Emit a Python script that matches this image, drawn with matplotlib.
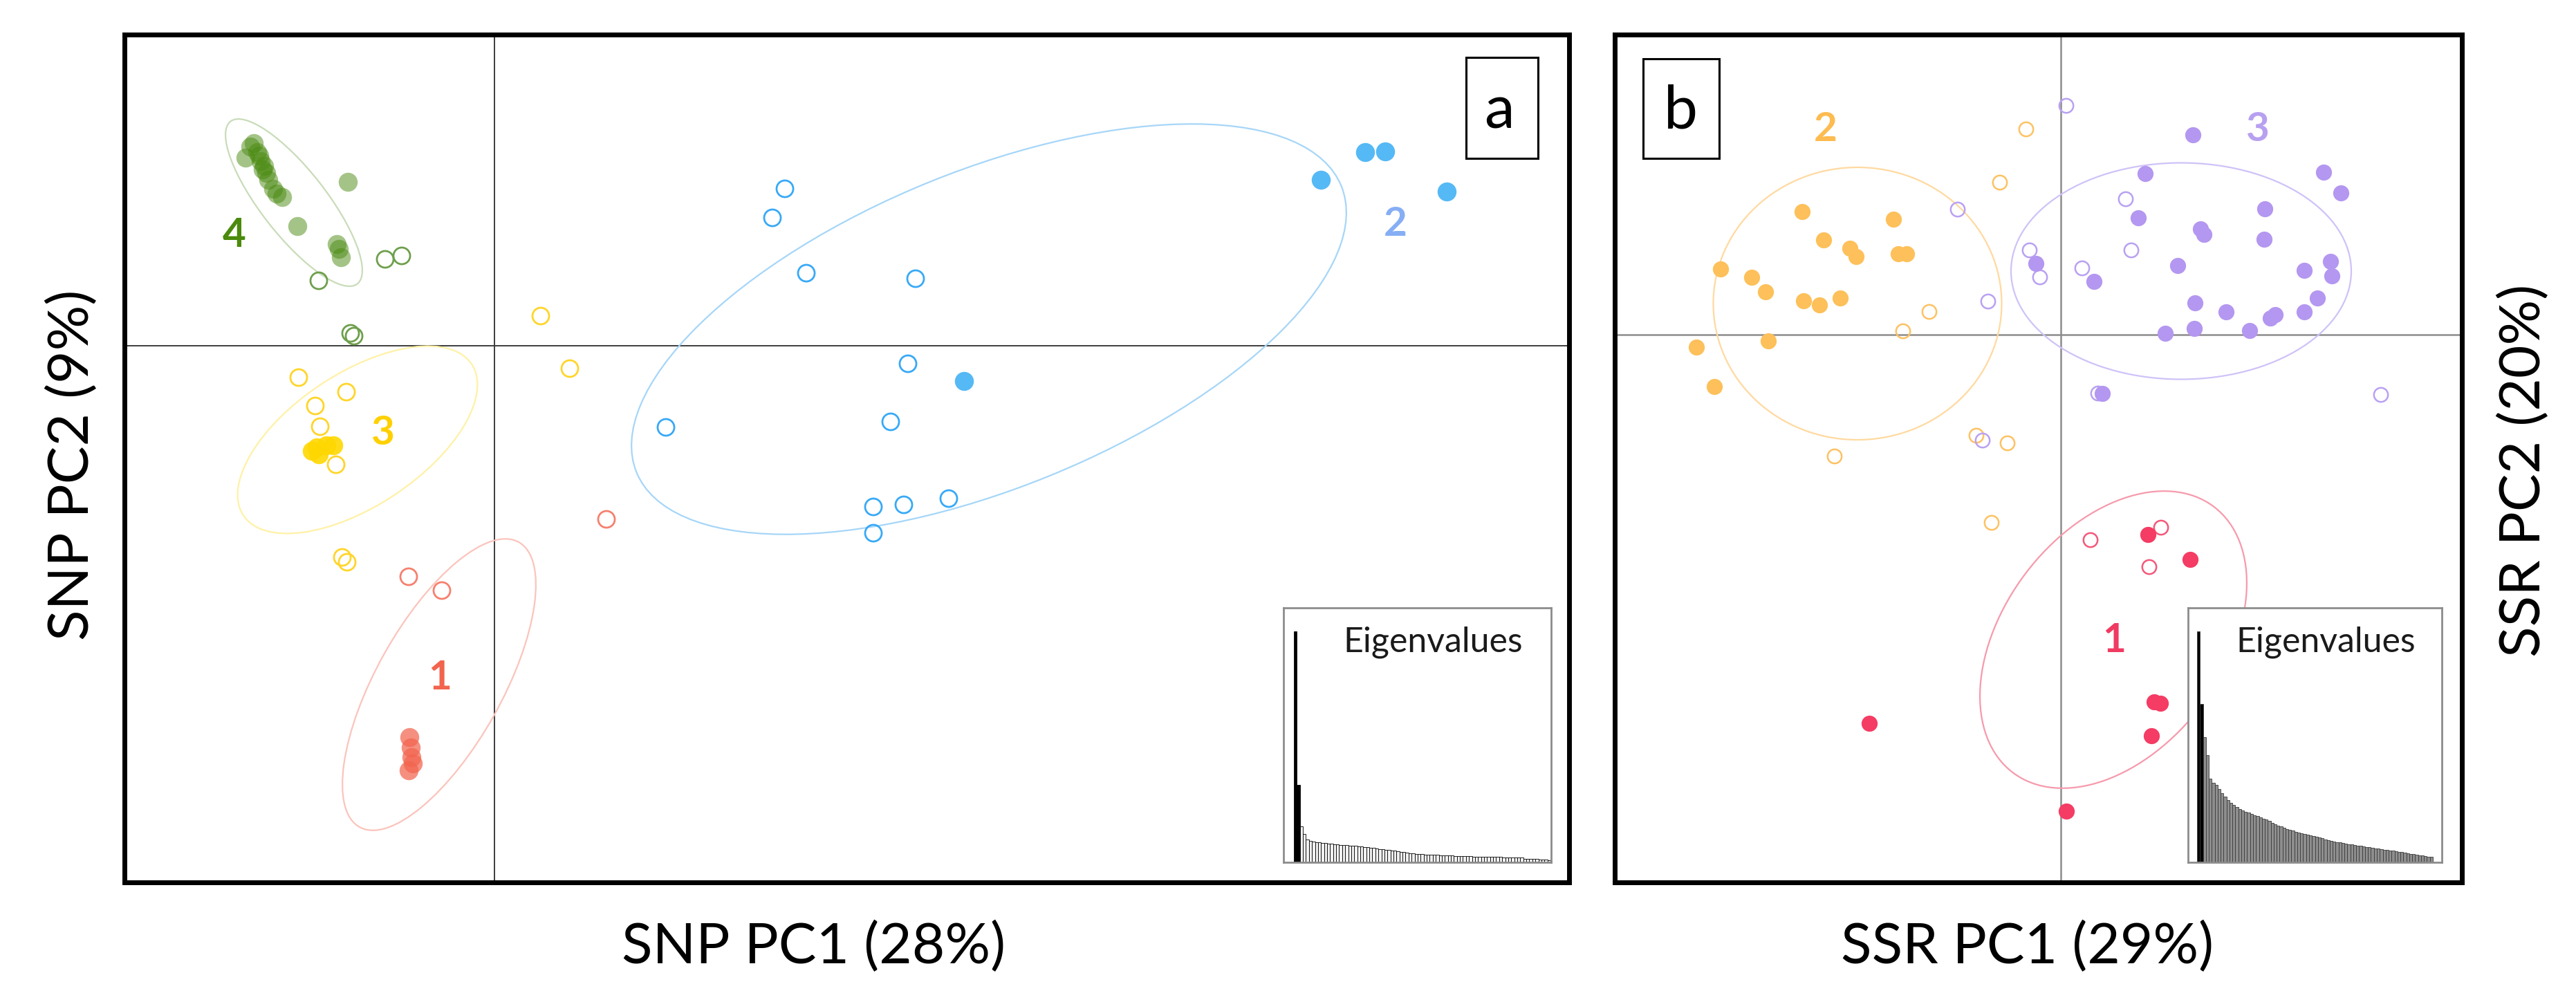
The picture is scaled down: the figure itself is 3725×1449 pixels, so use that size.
import matplotlib
matplotlib.use("Agg")
import matplotlib.pyplot as plt
from matplotlib.patches import Ellipse, Rectangle

plt.rcParams['font.family'] = ['Lato', 'DejaVu Sans']

# ---------------- DATA: panel a (SNP PCA) ----------------
snp_g4_fill_x = [-3.48, -3.60, -3.43, -3.38, -3.33, -3.30, -3.27, -3.20, -3.15, -3.07, -3.53, -3.40, -3.35, -2.12, -2.85, -2.28, -2.25, -2.22]
snp_g4_fill_y = [2.93, 2.72, 2.80, 2.67, 2.60, 2.50, 2.40, 2.27, 2.20, 2.15, 2.88, 2.75, 2.55, 2.37, 1.73, 1.47, 1.40, 1.28]
snp_g4_open_x = [-2.54, -1.58, -1.34, -2.08, -2.03]
snp_g4_open_y = [0.94, 1.25, 1.30, 0.18, 0.14]

snp_g3_fill_x = [-2.64, -2.54, -2.43, -2.33, -2.57]
snp_g3_fill_y = [-1.52, -1.57, -1.44, -1.44, -1.47]
snp_g3_open_x = [-2.83, -2.14, -2.59, -2.52, -2.29, -2.20, -2.13, 0.67, 1.09]
snp_g3_open_y = [-0.46, -0.67, -0.87, -1.17, -1.72, -3.06, -3.13, 0.43, -0.33]

snp_g1_fill_x = [-1.23, -1.21, -1.20, -1.18, -1.24]
snp_g1_fill_y = [-5.66, -5.81, -5.95, -6.04, -6.14]
snp_g1_open_x = [-1.24, -0.76, 1.62]
snp_g1_open_y = [-3.34, -3.54, -2.51]

snp_g2_fill_x = [11.95, 12.59, 12.88, 13.77, 6.79]
snp_g2_fill_y = [2.40, 2.80, 2.81, 2.23, -0.51]
snp_g2_open_x = [4.20, 4.02, 4.51, 6.09, 5.98, 5.73, 2.48, 5.48, 5.92, 6.57, 5.48]
snp_g2_open_y = [2.27, 1.85, 1.05, 0.97, -0.26, -1.10, -1.18, -2.33, -2.30, -2.21, -2.71]

# ellipses: centre x, centre y, width, height, angle (deg)
snp_ell_g4 = [-2.90, 2.07, 2.98, 0.94, -52]
snp_ell_g3 = [-1.98, -1.36, 3.96, 1.92, 33.5]
snp_ell_g1 = [-0.80, -4.90, 4.72, 1.82, 60.8]
snp_ell_g2 = [7.15, 0.24, 11.0, 4.59, 22.1]

snp_eig = [1.000, 0.335, 0.156, 0.122, 0.100, 0.094, 0.090, 0.088, 0.086, 0.085,
           0.084, 0.082, 0.080, 0.079, 0.077, 0.076, 0.075, 0.074, 0.073, 0.072,
           0.071, 0.070, 0.069, 0.067, 0.066, 0.064, 0.062, 0.060, 0.058, 0.056,
           0.054, 0.053, 0.052, 0.050, 0.048, 0.046, 0.044, 0.042, 0.040, 0.038,
           0.037, 0.036, 0.035, 0.034, 0.033, 0.033, 0.032, 0.032, 0.031, 0.031,
           0.030, 0.029, 0.029, 0.028, 0.028, 0.027, 0.027, 0.026, 0.026, 0.025,
           0.025, 0.025, 0.024, 0.024, 0.024, 0.024, 0.023, 0.023, 0.023, 0.022,
           0.022, 0.022, 0.021, 0.021, 0.020, 0.020, 0.016, 0.015, 0.015, 0.014,
           0.014, 0.013, 0.013, 0.012, 0.010]

# ---------------- DATA: panel b (SSR PCA) ----------------
ssr_g2_fill_x = [-3.74, -2.42, -3.43, -3.05, -2.96, -2.35, -2.23, -4.92, -4.47, -4.27, -3.72, -3.49, -3.19, -4.23, -5.27, -5.01]
ssr_g2_fill_y = [1.78, 1.67, 1.37, 1.25, 1.13, 1.17, 1.17, 0.95, 0.83, 0.62, 0.49, 0.43, 0.53, -0.09, -0.18, -0.75]
ssr_g2_open_x = [-0.50, -0.88, -1.90, -2.28, -1.22, -0.77, -3.27, -1.00]
ssr_g2_open_y = [2.97, 2.20, 0.33, 0.05, -1.46, -1.57, -1.76, -2.72]

ssr_g3_fill_x = [1.91, 1.22, 3.80, 4.05, 1.12, 2.95, 2.02, 2.07, 2.94, 1.69, -0.36, 0.48, 3.52,
                 3.90, 3.92, 3.71, 3.52, 1.94, 2.39, 3.10, 3.03, 2.73, 1.93, 1.51, 0.60]
ssr_g3_fill_y = [2.89, 2.33, 2.35, 2.05, 1.69, 1.82, 1.53, 1.45, 1.38, 1.00, 1.03, 0.77, 0.93,
                 1.06, 0.85, 0.53, 0.33, 0.46, 0.33, 0.29, 0.24, 0.06, 0.09, 0.02, -0.85]
ssr_g3_open_x = [0.08, -1.49, 0.94, -0.45, -0.30, 0.31, 1.02, -1.05, 0.54, -1.13, 4.63]
ssr_g3_open_y = [3.31, 1.81, 1.96, 1.22, 0.83, 0.96, 1.22, 0.48, -0.85, -1.53, -0.87]

ssr_g1_fill_x = [1.26, 1.87, 1.35, 1.44, 1.31, -2.77, 0.08]
ssr_g1_fill_y = [-2.89, -3.25, -5.31, -5.33, -5.80, -5.62, -6.89]
ssr_g1_open_x = [1.45, 0.43, 1.28]
ssr_g1_open_y = [-2.79, -2.97, -3.36]

ssr_ell_g2 = [-2.94, 0.45, 4.17, 3.94, 0]
ssr_ell_g3 = [1.74, 0.92, 4.92, 3.13, 0]
ssr_ell_g1 = [0.76, -4.41, 4.82, 3.18, 52.9]

ssr_eig = [1.000, 0.687, 0.542, 0.463, 0.363, 0.345, 0.335, 0.318, 0.300, 0.285,
           0.270, 0.258, 0.250, 0.240, 0.232, 0.225, 0.220, 0.215, 0.210, 0.205,
           0.200, 0.195, 0.190, 0.185, 0.180, 0.172, 0.165, 0.160, 0.155, 0.150,
           0.145, 0.140, 0.137, 0.133, 0.130, 0.126, 0.122, 0.120, 0.116, 0.113,
           0.110, 0.107, 0.104, 0.100, 0.097, 0.094, 0.090, 0.088, 0.086, 0.084,
           0.081, 0.079, 0.077, 0.075, 0.073, 0.071, 0.069, 0.067, 0.065, 0.063,
           0.061, 0.059, 0.057, 0.055, 0.053, 0.051, 0.050, 0.048, 0.046, 0.044,
           0.042, 0.040, 0.037, 0.035, 0.033, 0.031, 0.029, 0.027, 0.025, 0.023]

# ---------------- FIGURE ----------------
W, H = 3725, 1449
fig = plt.figure(figsize=(W / 100, H / 100), dpi=100)


def fx(px):
    return px / W


def fy(py):
    return 1 - py / H


def add_box_axes(l, r, t, b):
    return fig.add_axes([fx(l), fy(b), fx(r) - fx(l), fy(t) - fy(b)])


def setup_main(ax, xlim, ylim, cross_col, cross_lw):
    ax.set_xlim(*xlim)
    ax.set_ylim(*ylim)
    ax.set_xticks([])
    ax.set_yticks([])
    for s in ax.spines.values():
        s.set_linewidth(5)
        s.set_color('black')
    ax.axhline(0, color=cross_col, lw=cross_lw, zorder=1)
    ax.axvline(0, color=cross_col, lw=cross_lw, zorder=1)


def draw_ellipse(ax, p, col):
    ax.add_patch(Ellipse((p[0], p[1]), p[2], p[3], angle=p[4], fill=False,
                         ec=col, lw=1.6, zorder=2))


def draw_group(ax, fx_, fy_, ox, oy, fcol, falpha, ocol, s_fill, s_open, lw_open):
    ax.scatter(ox, oy, s=s_open, facecolors='none', edgecolors=ocol,
               linewidths=lw_open, zorder=3)
    ax.scatter(fx_, fy_, s=s_fill, color=fcol, alpha=falpha, linewidths=0, zorder=4)


# ---- panel a ----
axA = add_box_axes(180, 2269, 50, 1276)
setup_main(axA, ((180 - 715) / 100, (2269 - 715) / 100), ((500 - 1276) / 100, (500 - 50) / 100),
           '#3c3c3c', 1.4)

draw_ellipse(axA, snp_ell_g4, '#c9dcb9')
draw_ellipse(axA, snp_ell_g3, '#fff1a6')
draw_ellipse(axA, snp_ell_g1, '#fbc4bc')
draw_ellipse(axA, snp_ell_g2, '#a6d6f8')

sA_f, sA_o, lwA = 390, 300, 2.0
draw_group(axA, snp_g4_fill_x, snp_g4_fill_y, snp_g4_open_x, snp_g4_open_y,
           '#4a8a10', 0.5, '#6e9f4c', sA_f, sA_o, lwA)
draw_group(axA, snp_g3_fill_x, snp_g3_fill_y, snp_g3_open_x, snp_g3_open_y,
           '#ffd700', 0.9, '#ffd52a', sA_f, sA_o, lwA)
draw_group(axA, snp_g1_fill_x, snp_g1_fill_y, snp_g1_open_x, snp_g1_open_y,
           '#f2644f', 0.72, '#f6806f', sA_f, sA_o, lwA)
draw_group(axA, snp_g2_fill_x, snp_g2_fill_y, snp_g2_open_x, snp_g2_open_y,
           '#55b9f5', 1.0, '#38a9f7', sA_f, sA_o, lwA)

lab_kw = dict(fontsize=42, fontweight='bold', ha='center', va='baseline', zorder=6)
axA.text(-3.76, 1.43, '4', color='#4a8a0c', **lab_kw)
axA.text(-1.62, -1.43, '3', color='#ffd000', **lab_kw)
axA.text(-0.79, -4.97, '1', color='#f2644e', **lab_kw)
axA.text(13.03, 1.59, '2', color='#86aef5', **lab_kw)

# ---- panel b ----
axB = add_box_axes(2335, 3560, 50, 1276)
setup_main(axB, ((2335 - 2980) / 100, (3560 - 2980) / 100), ((484 - 1276) / 100, (484 - 50) / 100),
           '#8c8c8c', 1.8)

draw_ellipse(axB, ssr_ell_g2, '#ffd9a0')
draw_ellipse(axB, ssr_ell_g3, '#cfc2f8')
draw_ellipse(axB, ssr_ell_g1, '#f69aac')

sB_f, sB_o, lwB = 280, 215, 1.8
draw_group(axB, ssr_g2_fill_x, ssr_g2_fill_y, ssr_g2_open_x, ssr_g2_open_y,
           '#fdc05a', 1.0, '#fdc264', sB_f, sB_o, lwB)
draw_group(axB, ssr_g3_fill_x, ssr_g3_fill_y, ssr_g3_open_x, ssr_g3_open_y,
           '#b497f0', 1.0, '#b9a1f2', sB_f, sB_o, lwB)
draw_group(axB, ssr_g1_fill_x, ssr_g1_fill_y, ssr_g1_open_x, ssr_g1_open_y,
           '#f43c64', 1.0, '#f4587a', sB_f, sB_o, lwB)

axB.text(-3.40, 2.80, '2', color='#fdbb50', **lab_kw)
axB.text(2.84, 2.80, '3', color='#b7a0f0', **lab_kw)
axB.text(0.77, -4.59, '1', color='#f03a62', **lab_kw)


# ---- eigenvalue insets ----
def eig_inset(l, r, t, b, vals, bar_l, bar_r, fill_col, edge_col, text_cx):
    ax = add_box_axes(l, r, t, b)
    ax.set_zorder(5)
    n = len(vals)
    span = bar_r - bar_l
    ax.set_xlim(-(bar_l - l) / span * n, n + (r - bar_r) / span * n)
    ax.set_ylim(0, (b - t) / (b - 913))
    cols = ['black', 'black'] + [fill_col] * (n - 2)
    ax.bar(range(n), vals, width=1.0, align='edge', color=cols,
           edgecolor=edge_col, linewidth=0.6)
    ax.set_xticks([])
    ax.set_yticks([])
    ax.set_facecolor('white')
    for s in ax.spines.values():
        s.set_linewidth(2)
        s.set_color('#8c8c8c')
    ax.text((text_cx - l) / (r - l), 1 - (942 - t) / (b - t), 'Eigenvalues',
            transform=ax.transAxes, ha='center', va='baseline', fontsize=36, color='#1a1a1a')
    return ax


eig_inset(1856, 2243, 879, 1247, snp_eig, 1871, 2242, '#f0f0f0', 'black', 2072)
eig_inset(3164, 3531, 879, 1247, ssr_eig, 3177, 3518, '#8e8e8e', '#3a3a3a', 3363)

# ---- panel letters ----
for (l, r, t, b, cx, base, letter) in [(2120, 2224, 83, 229, 2168, 186, 'a'),
                                       (2376, 2486, 85, 229, 2430, 185, 'b')]:
    fig.add_artist(Rectangle((fx(l), fy(b)), fx(r) - fx(l), fy(t) - fy(b),
                             transform=fig.transFigure, fill=False, ec='black', lw=2.2,
                             zorder=10))
    fig.text(fx(cx), fy(base), letter, ha='center', va='baseline', fontsize=63, zorder=11)

# ---- axis labels ----
lbl = dict(fontsize=59, ha='center', va='baseline', rotation_mode='anchor')
fig.text(fx(1177), fy(1393), 'SNP PC1 (28%)', **lbl)
fig.text(fx(2932), fy(1393), 'SSR PC1 (29%)', **lbl)
fig.text(fx(128), fy(672), 'SNP PC2 (9%)', rotation=90, **lbl)
fig.text(fx(3673), fy(680), 'SSR PC2 (20%)', rotation=90, **lbl)

fig.savefig('out.png', dpi=100, facecolor='white')
